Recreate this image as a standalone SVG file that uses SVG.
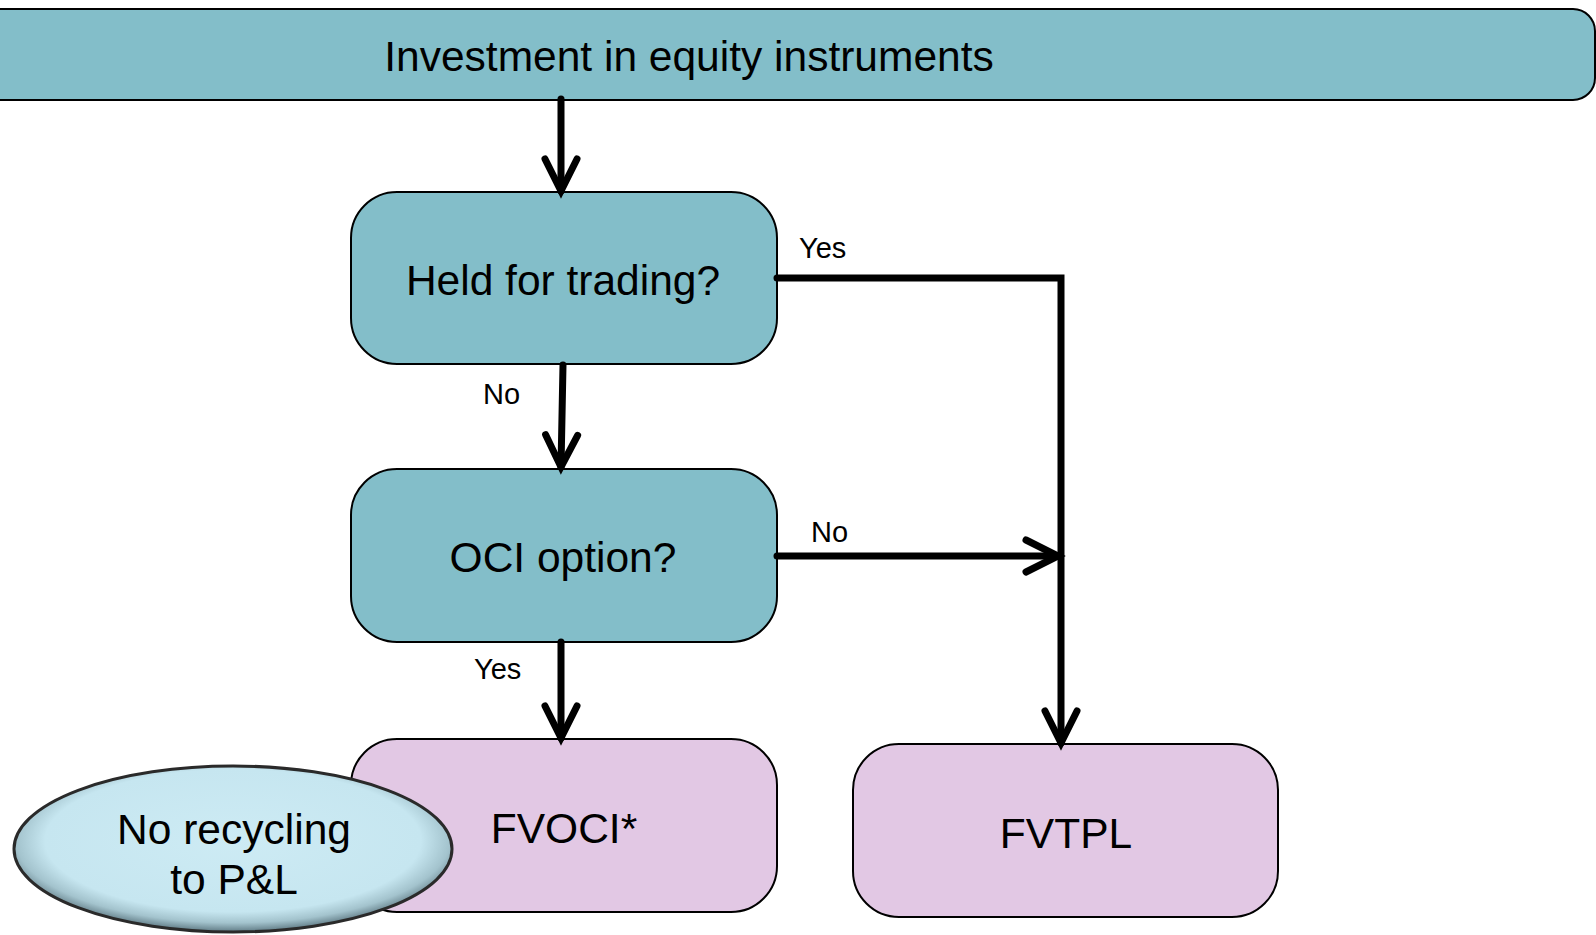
<svg xmlns="http://www.w3.org/2000/svg" width="1596" height="935" viewBox="0 0 1596 935">
<style>
.teal{fill:#83BEC9;stroke:#000;stroke-width:2}
.pink{fill:#E2C8E4;stroke:#000;stroke-width:2}
.t{font-family:"Liberation Sans",Arial,sans-serif;fill:#000}
.big{font-size:42.5px}
.lbl{font-size:29px}
.c{text-anchor:middle}
.conn{fill:none;stroke:#000;stroke-width:7;stroke-linecap:round;stroke-linejoin:miter}
</style>
<defs>
<marker id="ah" markerUnits="userSpaceOnUse" markerWidth="50" markerHeight="50" refX="0" refY="0" viewBox="-40 -25 50 50" orient="auto" overflow="visible">
<path d="M-32,-16 L0,0 L-32,16" fill="none" stroke="#000" stroke-width="7" stroke-linecap="round" stroke-linejoin="miter"/>
</marker>
<radialGradient id="eg" cx="50%" cy="45%" r="55%">
<stop offset="0" stop-color="#CDEBF4"/>
<stop offset="0.78" stop-color="#C6E6F0"/>
<stop offset="0.9" stop-color="#A3C3CD"/>
<stop offset="1" stop-color="#5F7A84"/>
</radialGradient>
</defs>
<g id="banner">
<rect x="-30" y="9" width="1625" height="91" rx="22" class="teal"/>
<text x="689" y="71" class="t big c">Investment in equity instruments</text>
</g>
<g id="held">
<rect x="351" y="192" width="426" height="172" rx="46" class="teal"/>
<text x="563" y="295" class="t big c">Held for trading?</text>
</g>
<g id="oci">
<rect x="351" y="469" width="426" height="173" rx="46" class="teal"/>
<text x="563" y="572" class="t big c">OCI option?</text>
</g>
<g id="fvoci">
<rect x="351" y="739" width="426" height="173" rx="46" class="pink"/>
<text x="564" y="843" class="t big c">FVOCI*</text>
</g>
<g id="fvtpl">
<rect x="853" y="744" width="425" height="173" rx="46" class="pink"/>
<text x="1066" y="848" class="t big c">FVTPL</text>
</g>
<g id="note">
<ellipse cx="233" cy="849" rx="219" ry="83" fill="url(#eg)" stroke="#2A2A2A" stroke-width="3"/>
<text x="234" y="844" class="t big c">No recycling</text>
<text x="234" y="894" class="t big c">to P&amp;L</text>
</g>
<g id="connectors">
<line x1="561" y1="99" x2="561" y2="191" class="conn" marker-end="url(#ah)"/>
<line x1="563" y1="365" x2="561" y2="467" class="conn" marker-end="url(#ah)"/>
<polyline points="777,278 1061,278 1061,743" class="conn" marker-end="url(#ah)"/>
<line x1="777" y1="556" x2="1058" y2="556" class="conn" marker-end="url(#ah)"/>
<line x1="561" y1="642" x2="561" y2="738" class="conn" marker-end="url(#ah)"/>
</g>
<g id="labels">
<text x="799" y="258" class="t lbl">Yes</text>
<text x="483" y="404" class="t lbl">No</text>
<text x="811" y="542" class="t lbl">No</text>
<text x="474" y="679" class="t lbl">Yes</text>
</g>
</svg>
